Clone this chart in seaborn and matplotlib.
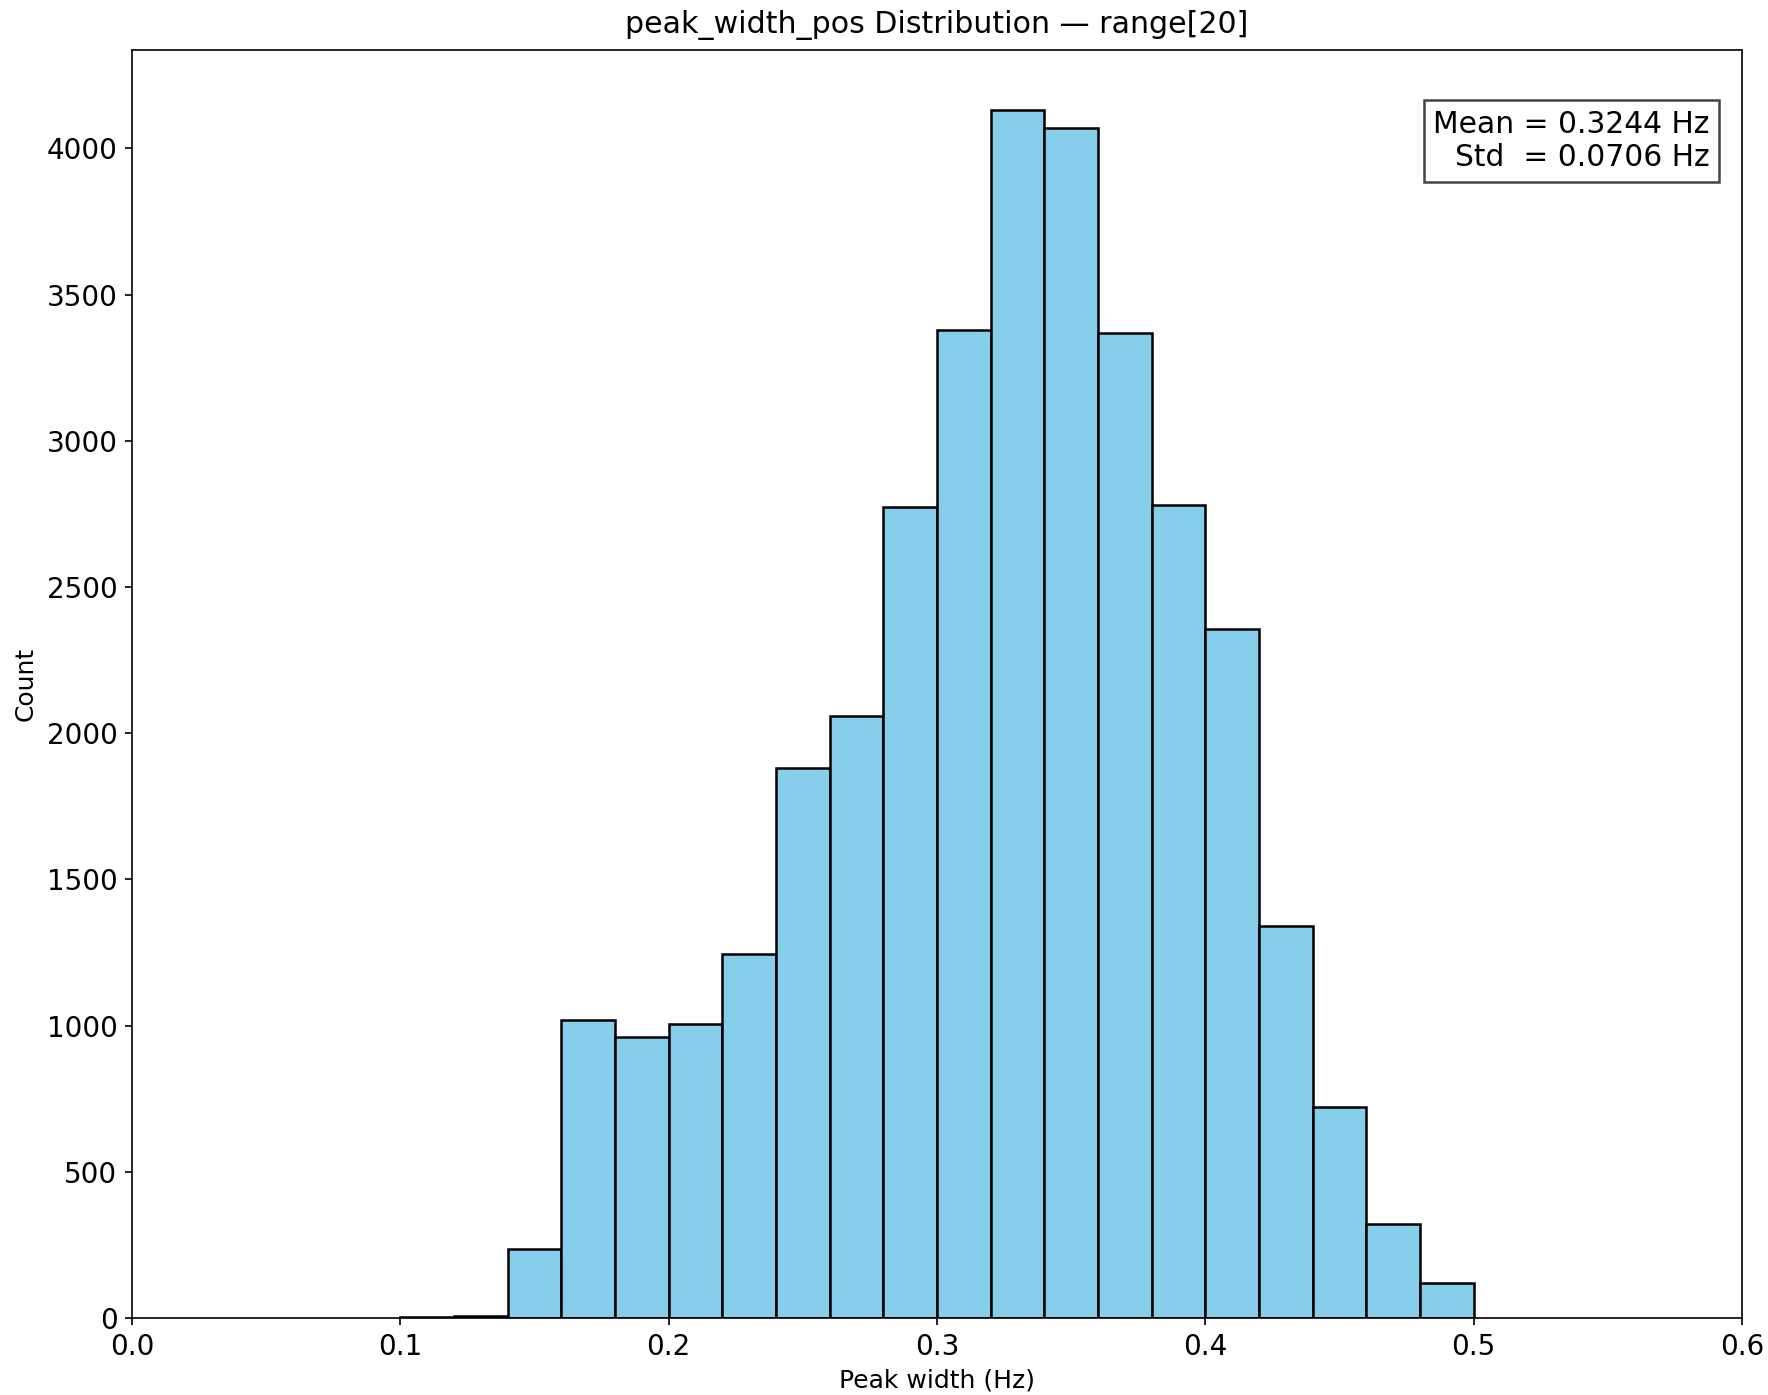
import matplotlib
matplotlib.use("Agg")
import matplotlib.pyplot as plt
import seaborn as sns
import numpy as np
import pandas as pd

bin_edges = [0.10, 0.12, 0.14, 0.16, 0.18, 0.20, 0.22, 0.24, 0.26, 0.28, 0.30,
             0.32, 0.34, 0.36, 0.38, 0.40, 0.42, 0.44, 0.46, 0.48, 0.50]
counts = [2, 8, 235, 1020, 960, 1005, 1245, 1880, 2060, 2775, 3380,
          4130, 4070, 3370, 2780, 2355, 1340, 720, 320, 120]
title = "peak_width_pos Distribution — range[20]"
stats_text = "Mean = 0.3244 Hz\nStd  = 0.0706 Hz"

edges = np.array(bin_edges)
centers = (edges[:-1] + edges[1:]) / 2
df = pd.DataFrame({"width": centers, "count": np.array(counts, dtype=float)})

fig = plt.figure(figsize=(1768/150, 1395/150), dpi=150)
ax = fig.add_axes([132/1768, 1 - 1318/1395, (1742-132)/1768, (1318-50)/1395])
sns.histplot(data=df, x="width", weights="count", bins=bin_edges, color="skyblue",
             edgecolor="black", alpha=1.0, linewidth=1.2, ax=ax)
ax.set_xlim(0, 0.6)
ax.set_ylim(0, max(counts) * 1.05)
ax.set_title(title, fontsize=14.4, pad=8)
ax.set_xlabel("Peak width (Hz)", fontsize=12)
ax.set_ylabel("Count", fontsize=12, labelpad=4)
ax.tick_params(labelsize=13.3)
ax.text(0.98, 0.953, stats_text, transform=ax.transAxes, ha="right", va="top",
        fontsize=14.3, bbox=dict(boxstyle="square,pad=0.32", facecolor="white",
                                  edgecolor="#444444", linewidth=1.2))
fig.savefig("out.png", dpi=150)
